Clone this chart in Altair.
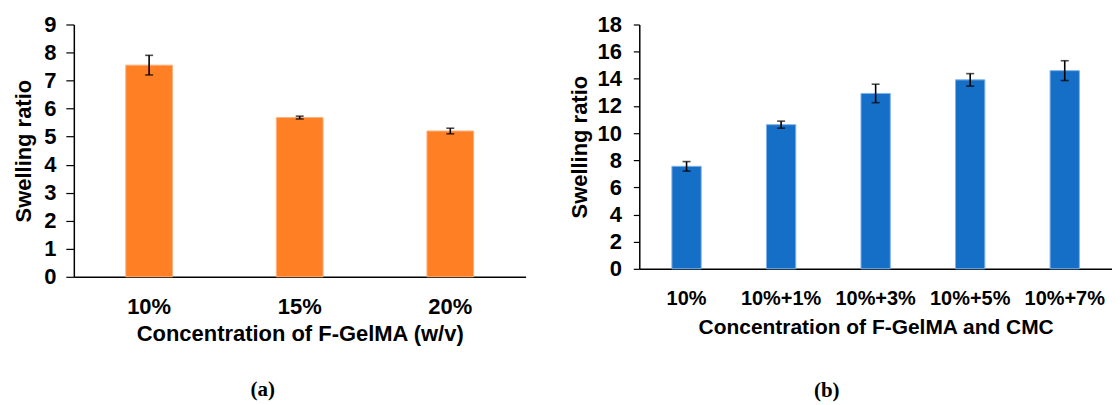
import altair as alt
import pandas as pd

cats_a = ["10%", "15%", "20%"]
vals_a = [7.55, 5.68, 5.20]
errs_a = [0.35, 0.05, 0.10]

cats_b = ["10%", "10%+1%", "10%+3%", "10%+5%", "10%+7%"]
vals_b = [7.55, 10.62, 12.92, 13.92, 14.60]
errs_b = [0.35, 0.26, 0.68, 0.46, 0.73]

FONT = "Liberation Sans"


def panel(cats, vals, errs, color, stroke, ymax, step, xtitle, caption, w, h,
          xlab_size, xlab_pad, xtitle_size, xtitle_pad, ytitle_pad, ylab_pad,
          tick_size, cap_dx, cap_off):
    df = pd.DataFrame({
        "cat": cats,
        "val": vals,
        "lo": [v - e for v, e in zip(vals, errs)],
        "hi": [v + e for v, e in zip(vals, errs)],
    })
    xaxis = alt.Axis(labelAngle=0, ticks=False, domainColor="black", domainWidth=1.5,
                     labelFont=FONT, labelFontSize=xlab_size, labelFontWeight="bold",
                     labelColor="black", labelPadding=xlab_pad,
                     titleFont=FONT, titleFontSize=xtitle_size, titleFontWeight="bold",
                     titleColor="black", titlePadding=xtitle_pad)
    xscale = alt.Scale(paddingInner=0.69, paddingOuter=0.345)
    x = alt.X("cat:N", sort=cats, title=xtitle, scale=xscale, axis=xaxis)
    yscale = alt.Scale(domain=[0, ymax], nice=False)
    yaxis = alt.Axis(values=list(range(0, ymax + 1, step)), grid=False,
                     ticks=True, tickSize=tick_size, tickColor="black", tickWidth=1.2,
                     domainColor="black", domainWidth=1.5,
                     labelFont=FONT, labelFontSize=22, labelFontWeight="bold",
                     labelColor="black", labelPadding=ylab_pad,
                     titleFont=FONT, titleFontSize=22, titleFontWeight="bold",
                     titleColor="black", titlePadding=ytitle_pad)

    def Y(field):
        return alt.Y(field, scale=yscale, axis=yaxis, title="Swelling ratio")

    base = alt.Chart(df)
    bars = base.mark_bar(color=color, stroke=stroke, strokeWidth=1).encode(
        x=x, y=Y("val:Q"))
    rule = base.mark_rule(color="black", strokeWidth=1.6).encode(
        x=x, y=Y("lo:Q"), y2="hi:Q")
    tlo = base.mark_tick(color="black", thickness=1.6, size=8).encode(
        x=x, y=Y("lo:Q"))
    thi = base.mark_tick(color="black", thickness=1.6, size=8).encode(
        x=x, y=Y("hi:Q"))
    return alt.layer(bars, rule, tlo, thi).properties(
        width=w, height=h,
        title=alt.TitleParams(caption, orient="bottom", font="Liberation Serif",
                              fontSize=21, fontWeight="bold", color="black",
                              anchor="middle", dx=cap_dx, offset=cap_off),
    )


left = panel(cats_a, vals_a, errs_a, "#FF7F24", "#FFB07A", 9, 1,
             "Concentration of F-GelMA (w/v)", "(a)", 453, 253,
             22, 20, 22, 6, 8, 10, 8, -37, 35)
right = panel(cats_b, vals_b, errs_b, "#166FC6", "#7DB2EA", 18, 2,
              "Concentration of F-GelMA and CMC", "(b)", 474, 245,
              20, 20, 21, 8, 5, 12, 6, -49, 43)

chart = alt.hconcat(left, right, spacing=43).properties(
    padding={"left": 4, "top": 5, "right": 0, "bottom": 0}
).configure_view(stroke=None)

chart.save("out.html", embed_options={"renderer": "svg", "actions": False})
